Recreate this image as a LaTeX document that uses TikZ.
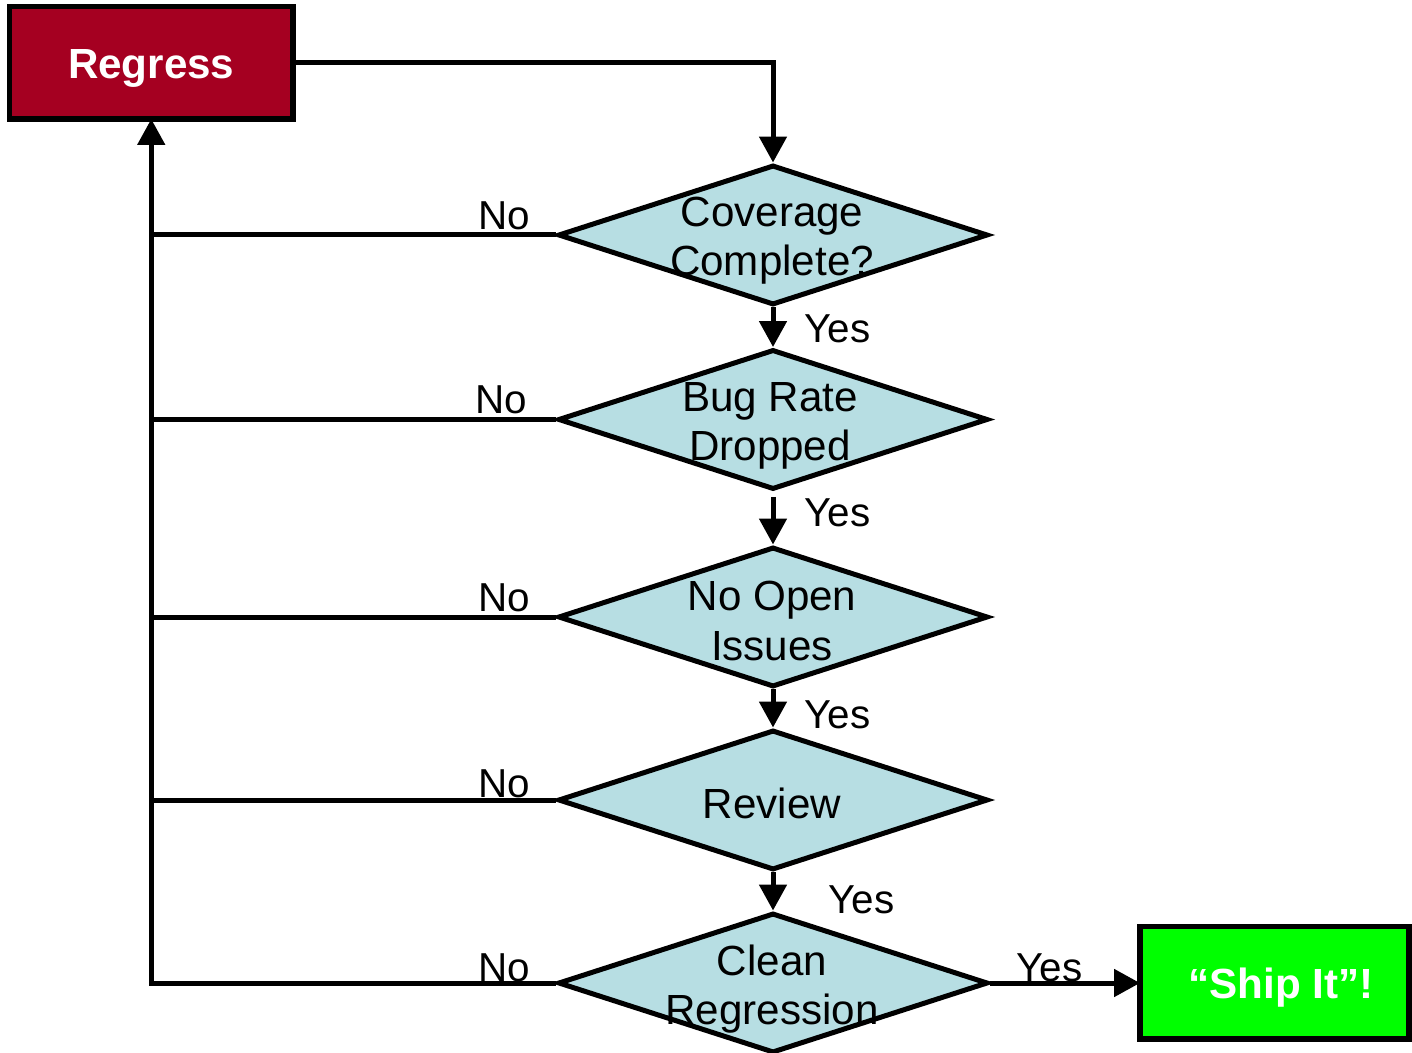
\documentclass[tikz,border=0pt]{standalone}
\usepackage{fontspec}
\setmainfont{Liberation Sans}
\usetikzlibrary{shapes.geometric,arrows.meta}
\definecolor{regred}{RGB}{165,0,33}
\definecolor{diablue}{RGB}{183,222,227}
\definecolor{shipgreen}{RGB}{0,255,0}
\begin{document}
\begin{tikzpicture}[x=0.02cm,y=-0.02cm,
  dia/.style={draw=black,fill=diablue,shape=diamond,line width=0.1cm,inner sep=0pt,
    minimum width=8.6cm,minimum height=2.8cm},
  dtext/.style={align=center,font=\fontsize{24}{28}\selectfont,inner sep=0pt},
  lab/.style={font=\fontsize{23}{27}\selectfont,inner sep=0pt},
  conn/.style={line width=0.1cm},
  arr/.style={conn,-{Triangle[length=0.52cm,width=0.54cm]}},
  boxa/.style={draw=black,line width=0.11cm,inner sep=0pt},
  btext/.style={font=\fontsize{24}{28}\selectfont\bfseries,text=white}
]
\useasboundingbox (0,0) rectangle (1412,1053);
% boxes
\path[boxa,fill=regred] (9.5,6.5) rectangle (293,119);
\coordinate (regS) at (151.25,119);
\coordinate (regE) at (293,62.5);
\node[btext] (reg) at (151.25,68) {Regress};
\path[boxa,fill=shipgreen] (1140,926.5) rectangle (1409,1039);
\coordinate (shipW) at (1140,983);
\node[btext] (ship) at (1281,988) {``Ship It''!};
% diamonds
\node[dia] (d1) at (773,235) {};
\node[dia] (d2) at (773,419.5) {};
\node[dia] (d3) at (773,617) {};
\node[dia] (d4) at (773,800) {};
\node[dia] (d5) at (773,983) {};
\node[dtext] (t1) at (772,241) {Coverage\\Complete?};
\node[dtext] (t2) at (770,426) {Bug Rate\\Dropped};
\node[dtext] (t3) at (772,621) {No Open\\Issues};
\node[dtext] (t4) at (772,803) {Review};
\node[dtext] (t5) at (772,989) {Clean\\Regression};
% connectors
\draw[arr] (regE) -| (d1.north);
\draw[arr] (d1.south) -- (d2.north);
\draw[arr] ([yshift=-0.1cm]d2.south) -- (d3.north);
\draw[arr] (d3.south) -- (d4.north);
\draw[arr] (d4.south) -- (d5.north);
\draw[arr] (d5.east) -- (shipW);
\draw[arr] (d5.west) -| (regS);
\draw[conn] (d1.west) -- (regS |- d1.west);
\draw[conn] (d2.west) -- (regS |- d2.west);
\draw[conn] (d3.west) -- (regS |- d3.west);
\draw[conn] (d4.west) -- (regS |- d4.west);
% labels
\node[lab,anchor=base] (n1) at (504,230) {No};
\node[lab,anchor=base] (n2) at (501,414) {No};
\node[lab,anchor=base] (n3) at (504,611) {No};
\node[lab,anchor=base] (n4) at (504,797) {No};
\node[lab,anchor=base] (n5) at (504,981) {No};
\node[lab,anchor=base west] (y1) at (804,343) {Yes};
\node[lab,anchor=base west] (y2) at (804,526) {Yes};
\node[lab,anchor=base west] (y3) at (804,728) {Yes};
\node[lab,anchor=base west] (y4) at (828,913) {Yes};
\node[lab,anchor=base west] (y5) at (1016,981) {Yes};
\end{tikzpicture}
\end{document}
